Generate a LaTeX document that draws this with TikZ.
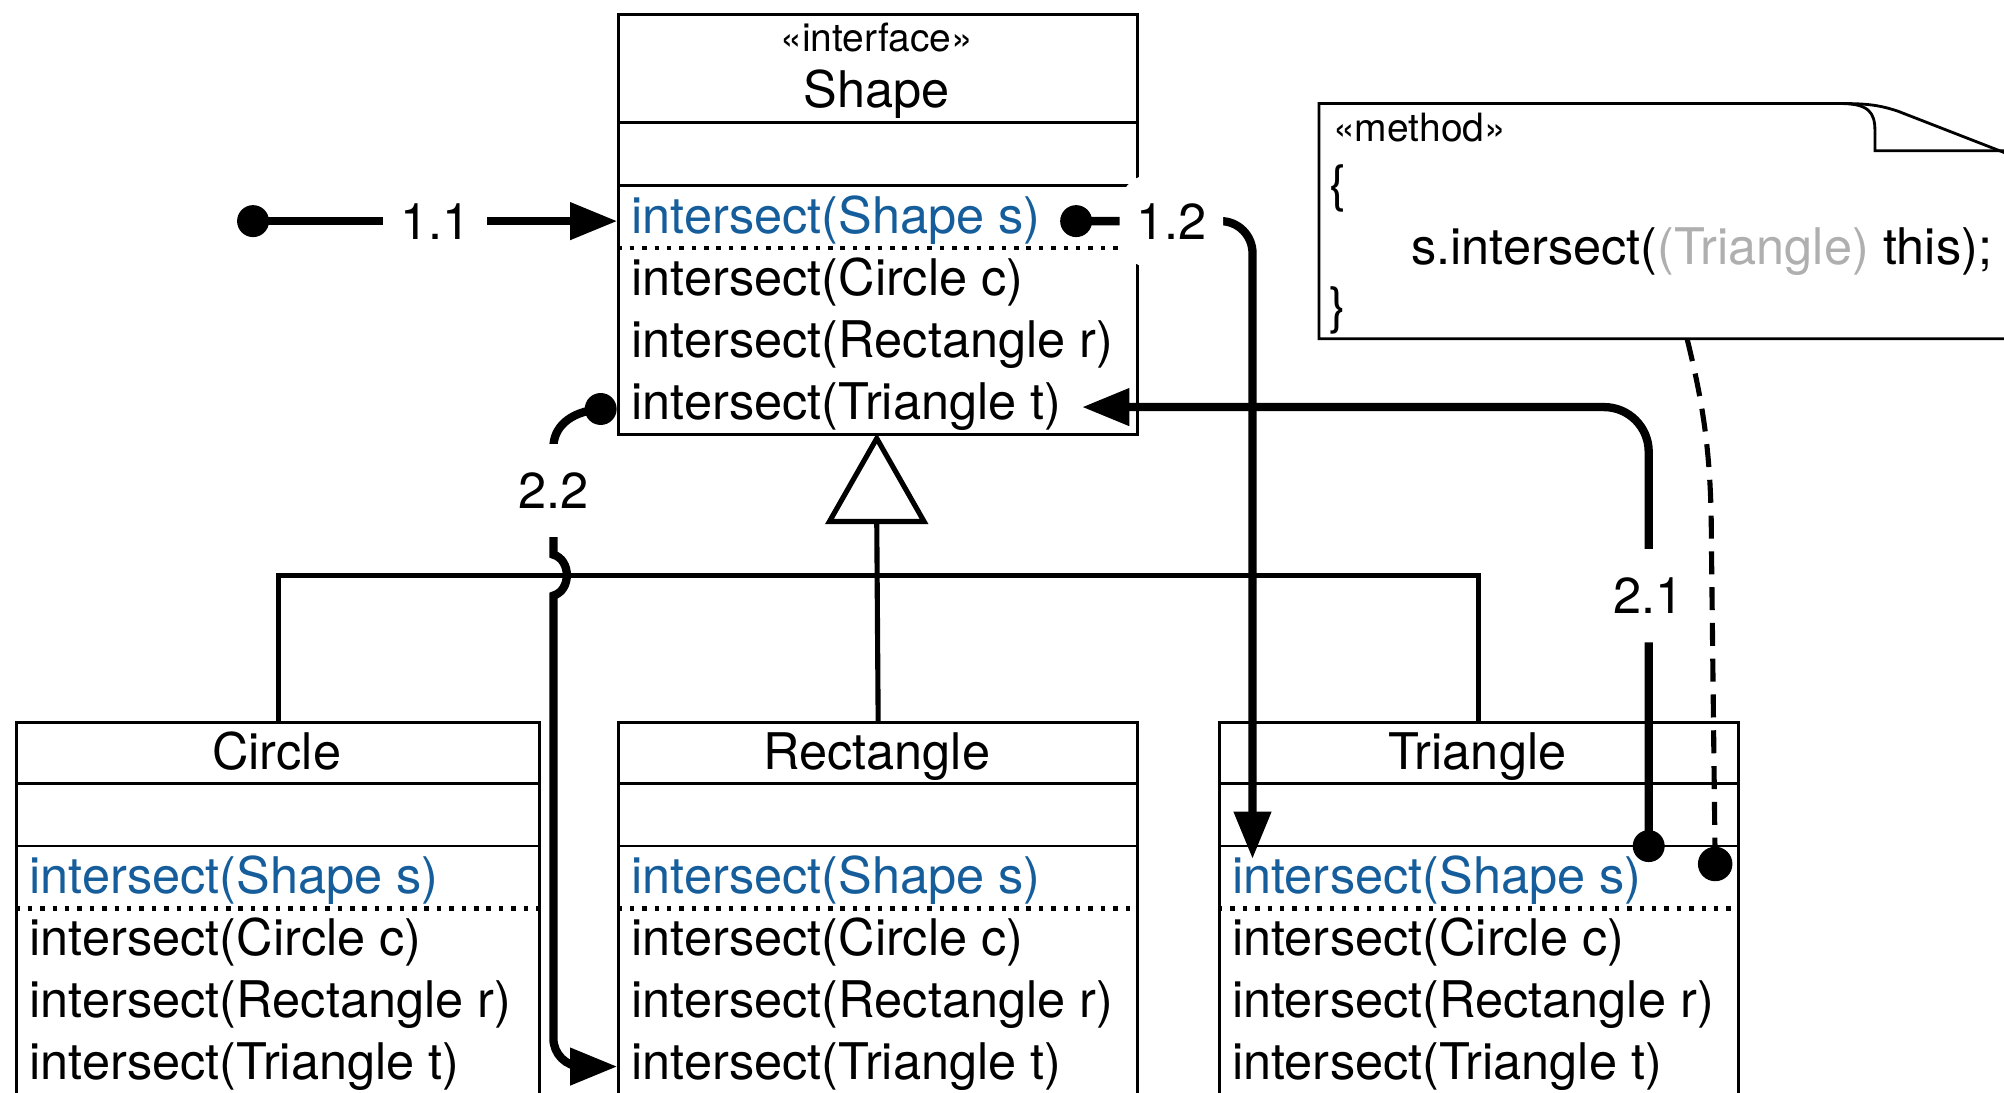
\documentclass[tikz,border=0pt]{standalone}
\usepackage{fontspec}
\setmainfont{TeX Gyre Heros}
\usetikzlibrary{arrows.meta}
\definecolor{opblue}{RGB}{22,94,155}
\definecolor{castgray}{RGB}{175,175,175}
\begin{document}
\begin{tikzpicture}[x=1pt,y=-1pt,
  classbox/.style={draw,line width=2.2pt,inner sep=0pt,anchor=north west},
  cmpline/.style={line width=2.2pt},
  dotline/.style={line width=3.5pt,dash pattern=on 3.5pt off 6.2pt},
  oprow/.style={anchor=base west,inner xsep=11pt,inner ysep=0pt,text height=28pt,text depth=8pt,font=\fontsize{39.5}{46}\selectfont},
  cname/.style={anchor=base,inner sep=0pt,font=\fontsize{39.5}{46}\selectfont},
  stereo/.style={anchor=base,inner sep=0pt,font=\fontsize{30.5}{36}\selectfont},
  notetext/.style={anchor=base west,inner sep=0pt,font=\fontsize{39.5}{46}\selectfont},
  inh/.style={line width=4pt},
  conn/.style={line width=6.5pt},
  arr/.style={-{Triangle[length=37pt,width=28pt]}},
  lbl/.style={fill=white,inner sep=0pt,minimum width=81pt,minimum height=73pt,font=\fontsize{39.5}{46}\selectfont},
  dotnode/.style={circle,fill=black,inner sep=0pt,minimum size=25pt},
]
\useasboundingbox (0,0) rectangle (1568,855);
\clip (0,0) rectangle (1568,855);

% ---------- note ----------
\draw[line width=2.2pt] (1620,265) -- (1032,265) -- (1032,81) -- (1440,81)
  .. controls (1460,81) and (1470,82) .. (1485,87) -- (1575,122);
\draw[line width=2.2pt] (1440,81) .. controls (1462,81) and (1467,88) .. (1467,102) -- (1467,118) -- (1575,118);
\node[stereo,anchor=base west] (nst) at (1043,111) {«method»};
\node[notetext] (nob) at (1040,158) {\{};
\node[notetext] (ncode) at (1104,207) {s.intersect(\textcolor{castgray}{(Triangle)} this);};
\node[notetext] (ncb) at (1040,253) {\}};
\coordinate (nbot) at (1320,265);

% ---------- Shape ----------
\node[classbox,minimum width=406pt,minimum height=329pt] (shape) at (483,10) {};
\draw[cmpline] (483,96) -- (889,96);
\draw[cmpline] (483,145) -- (889,145);
\draw[dotline] (483,194) -- (889,194);
\node[stereo] (sst) at (686,40) {«interface»};
\node[cname] (sname) at (686,84) {Shape};
\node[oprow,text=opblue] (sS) at (483,183) {intersect(Shape s)};
\node[oprow] (sC) at (483,231.5) {intersect(Circle c)};
\node[oprow] (sR) at (483,280) {intersect(Rectangle r)};
\node[oprow] (sT) at (483,328.5) {intersect(Triangle t)};

% ---------- Circle ----------
\node[classbox,minimum width=409pt,minimum height=340pt] (circ) at (12,564) {};
\draw[cmpline] (12,613) -- (421,613);
\draw[cmpline] (12,662) -- (421,662);
\draw[dotline] (12,711) -- (421,711);
\node[cname] (cname) at (216.5,602) {Circle};
\node[oprow,text=opblue] (cS) at (12,699) {intersect(Shape s)};
\node[oprow] (cC) at (12,747.5) {intersect(Circle c)};
\node[oprow] (cR) at (12,796) {intersect(Rectangle r)};
\node[oprow] (cT) at (12,844.5) {intersect(Triangle t)};

% ---------- Rectangle ----------
\node[classbox,minimum width=406pt,minimum height=340pt] (rect) at (483,564) {};
\draw[cmpline] (483,613) -- (889,613);
\draw[cmpline] (483,662) -- (889,662);
\draw[dotline] (483,711) -- (889,711);
\node[cname] (rname) at (686,602) {Rectangle};
\node[oprow,text=opblue] (rS) at (483,699) {intersect(Shape s)};
\node[oprow] (rC) at (483,747.5) {intersect(Circle c)};
\node[oprow] (rR) at (483,796) {intersect(Rectangle r)};
\node[oprow] (rT) at (483,844.5) {intersect(Triangle t)};

% ---------- Triangle ----------
\node[classbox,minimum width=406pt,minimum height=340pt] (tri) at (953,564) {};
\draw[cmpline] (953,613) -- (1359,613);
\draw[cmpline] (953,662) -- (1359,662);
\draw[dotline] (953,711) -- (1359,711);
\node[cname] (tname) at (1156,602) {Triangle};
\node[oprow,text=opblue] (tS) at (953,699) {intersect(Shape s)};
\node[oprow] (tC) at (953,747.5) {intersect(Circle c)};
\node[oprow] (tR) at (953,796) {intersect(Rectangle r)};
\node[oprow] (tT) at (953,844.5) {intersect(Triangle t)};

% ---------- generalization ----------
\coordinate (gbase) at (686,408);
\draw[inh] (circ.north) -- ++(0,-114) -| (tri.north);
\draw[inh] (rect.north) -- (gbase);
\draw[inh,fill=white] (686,343) -- (723,408) -- (649,408) -- cycle;

% ---------- messages ----------
\node[dotnode] (d11) at (198,173) {};
\draw[conn,arr] (d11.center) -- node[lbl]{1.1} (sS.west);

\node[dotnode] (d12) at (842,173) {};
\coordinate (e12) at (980,672);
\draw[conn,arr,rounded corners=25pt] (d12.center) -| node[lbl,pos=0.27]{1.2} (e12);

\node[dotnode] (d21) at (1290,662) {};
\draw[conn,arr,rounded corners=35pt,shorten >=5pt] (d21.center) |- node[lbl,pos=0.285]{2.1} (sT.east);

\node[dotnode] (d22) at (470,320) {};
\draw[conn,arr] (d22.center) .. controls (445,322) and (433,335) .. (433,350)
  -- node[lbl]{2.2} (433,418) -- (433,434)
  .. controls (447,438) and (447,462) .. (433,466) -- (433,470)
  [rounded corners=22pt] |- (rT.west);

\node[dotnode,minimum size=27pt] (d31) at (1342,676) {};
\draw[line width=4pt,dash pattern=on 18pt off 10pt] (nbot)
  .. controls (1331,310) and (1339,350) .. (1339,420) -- (d31.center);
\end{tikzpicture}
\end{document}
